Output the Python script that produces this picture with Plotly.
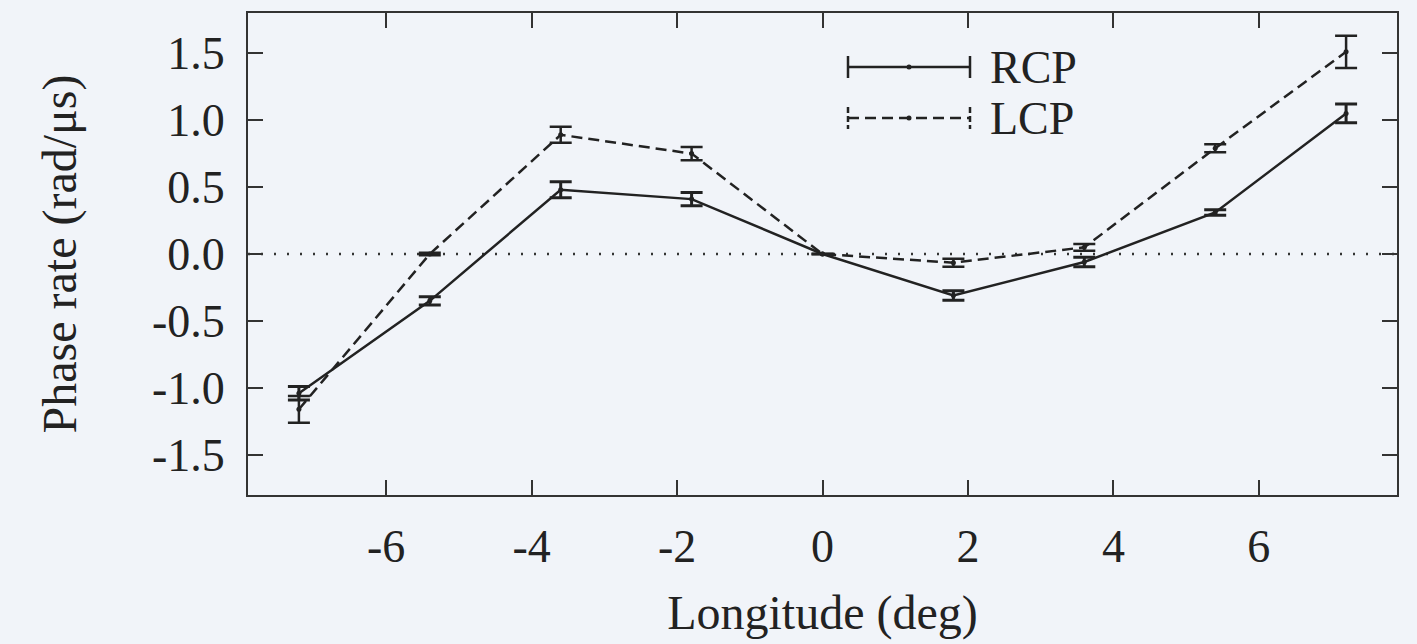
import plotly.graph_objects as go

longitude = [-7.2, -5.4, -3.6, -1.8, 0.0, 1.8, 3.6, 5.4, 7.2]
rcp = [-1.04, -0.35, 0.48, 0.41, 0.0, -0.31, -0.06, 0.31, 1.05]
rcp_err = [0.05, 0.03, 0.06, 0.05, 0.0, 0.035, 0.035, 0.02, 0.07]
lcp = [-1.16, 0.0, 0.89, 0.75, 0.0, -0.065, 0.05, 0.79, 1.51]
lcp_err = [0.10, 0.01, 0.06, 0.05, 0.0, 0.03, 0.025, 0.03, 0.12]

x_ticks = [-6, -4, -2, 0, 2, 4, 6]
x_ticktext = ["-6", "-4", "-2", "0", "2", "4", "6"]
y_ticks = [-1.5, -1.0, -0.5, 0.0, 0.5, 1.0, 1.5]
y_ticktext = ["-1.5", "-1.0", "-0.5", "0.0", "0.5", "1.0", "1.5"]

INK = "#222222"
BG = "#F1F4F9"
FONT = "Liberation Serif"
DASH = "11px,6px"

fig = go.Figure()

fig.add_trace(go.Scatter(
    x=longitude, y=rcp, name="RCP", mode="lines+markers",
    line=dict(color=INK, width=2.5),
    marker=dict(color=INK, size=5),
    error_y=dict(type="data", array=rcp_err, color=INK, thickness=3, width=11),
    showlegend=False,
))
fig.add_trace(go.Scatter(
    x=longitude, y=lcp, name="LCP", mode="lines+markers",
    line=dict(color=INK, width=2.5, dash=DASH),
    marker=dict(color=INK, size=5),
    error_y=dict(type="data", array=lcp_err, color=INK, thickness=2.5, width=11),
    showlegend=False,
))

# zero reference line
fig.add_shape(type="line", xref="paper", yref="y", x0=0, x1=1, y0=0, y1=0,
              line=dict(color="#333333", width=2.5, dash="2px,11px"), layer="below")

# custom legend (lines with end caps)
W, H = 1149.0, 482.0
def px(xp):
    return (xp - 248) / W
def py(yp):
    return (495 - yp) / H

for name, yy, dash in [("RCP", 67, "solid"), ("LCP", 118, DASH)]:
    fig.add_shape(type="line", xref="paper", yref="paper",
                  x0=px(848), x1=px(970), y0=py(yy), y1=py(yy),
                  line=dict(color=INK, width=2.5, dash=dash))
    for xe in (848, 970):
        fig.add_shape(type="line", xref="paper", yref="paper",
                      x0=px(xe), x1=px(xe), y0=py(yy - 11), y1=py(yy + 11),
                      line=dict(color=INK, width=2.5, dash="solid" if dash == "solid" else "6px,3px"))
    fig.add_shape(type="circle", xref="paper", yref="paper",
                  x0=px(906.5), x1=px(911.5), y0=py(yy + 2.5), y1=py(yy - 2.5),
                  fillcolor=INK, line=dict(color=INK, width=0))
    fig.add_annotation(xref="paper", yref="paper", x=px(988), y=py(yy),
                       text=name, showarrow=False, xanchor="left", yanchor="middle",
                       font=dict(family=FONT, size=46, color=INK))

axis_common = dict(
    showline=True, linecolor="#333333", linewidth=2, mirror="allticks",
    ticks="inside", ticklen=15, tickwidth=2, tickcolor="#333333",
    showgrid=False, zeroline=False,
    tickfont=dict(family=FONT, size=46, color=INK),
)

fig.update_layout(
    width=1417, height=644,
    margin=dict(l=248, r=20, t=13, b=149),
    paper_bgcolor=BG, plot_bgcolor=BG,
    font=dict(family=FONT, color=INK),
    xaxis=dict(range=[-7.9, 7.9], tickvals=x_ticks, ticktext=x_ticktext,
               ticklabelstandoff=10,
               title=dict(text="Longitude (deg)", font=dict(family=FONT, size=48, color=INK), standoff=24),
               **axis_common),
    yaxis=dict(range=[-1.8, 1.8], tickvals=y_ticks, ticktext=y_ticktext,
               ticklabelstandoff=12,
               title=dict(text="Phase rate (rad/μs)", font=dict(family=FONT, size=48, color=INK), standoff=60),
               **axis_common),
)

fig.write_html("out.html")
